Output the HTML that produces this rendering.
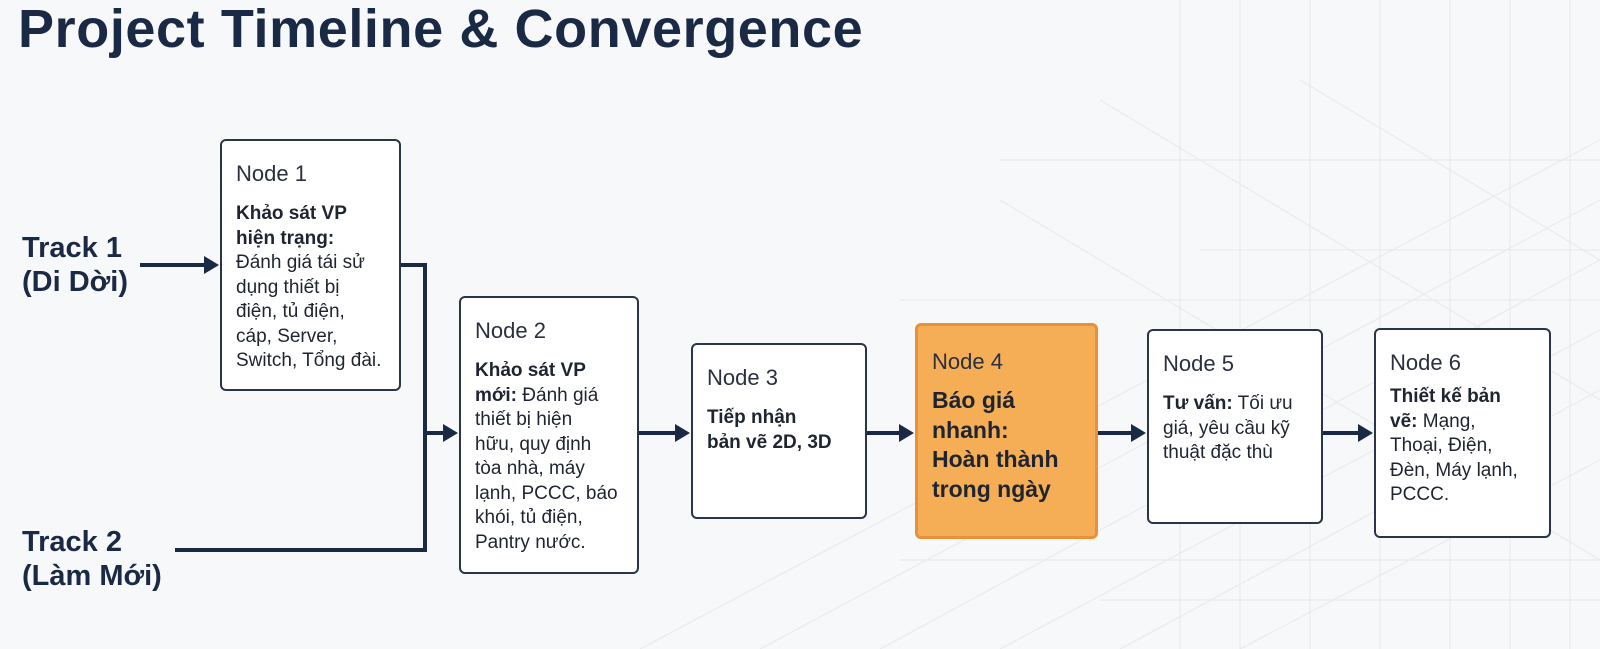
<!DOCTYPE html>
<html><head><meta charset="utf-8"><style>
body{margin:0;width:1600px;height:649px;background:#f7f8fa;position:relative;overflow:hidden;font-family:"Liberation Sans","DejaVu Sans",sans-serif;color:#1b2538}
.t{position:absolute;left:18px;top:-2px;font-size:54px;font-weight:bold;color:#1b2a44;letter-spacing:0.6px;white-space:nowrap}
.n{position:absolute;background:#fff;border:2px solid #2a3548;border-radius:6px;box-sizing:border-box;padding:20px 0 0 14px;font-size:19px;line-height:24.5px;color:#1e2430;white-space:nowrap}
.n h{display:block;font-size:22px;line-height:25px;margin-bottom:16px;color:#2a3040}
.n b{font-weight:bold}
.o{background:#f5ae55;border:3px solid #e8913a}
.o b{font-size:23px;line-height:28px}
.tr{position:absolute;font-size:29px;font-weight:bold;line-height:34px;color:#1b2a44}
svg{position:absolute;left:0;top:0}
</style></head><body>
<svg width="1600" height="649">
<g stroke="#e8eaee" stroke-width="1.2" fill="none">
<path d="M760 649 L1600 200 M880 649 L1600 260 M1000 649 L1600 330 M640 649 L1600 140 M1120 649 L1600 390 M1240 649 L1600 460"/>
<path d="M1180 0 V649 M1240 0 V649 M1310 0 V649 M1380 0 V649 M1450 0 V649 M1510 0 V649 M1570 0 V649"/>
<path d="M900 300 H1600 M900 560 H1600 M1100 600 H1600 M1200 250 H1600 M1000 160 H1600"/>
<path d="M1100 100 L1600 400 M1300 80 L1600 260 M1000 200 L1600 560"/>
</g>
<g stroke="#1b2a44" stroke-width="4" fill="none">
<path d="M140 265 H206"/>
<path d="M400 265 H425 V550 H175"/>
<path d="M425 433 H446"/>
<path d="M638 433 H678"/>
<path d="M866 433 H902"/>
<path d="M1097 433 H1134"/>
<path d="M1322 433 H1360"/>
</g>
<g fill="#1b2a44">
<path d="M219 265 L204 256 L204 274Z"/>
<path d="M458 433 L443 424 L443 442Z"/>
<path d="M690 433 L675 424 L675 442Z"/>
<path d="M914 433 L899 424 L899 442Z"/>
<path d="M1146 433 L1131 424 L1131 442Z"/>
<path d="M1373 433 L1358 424 L1358 442Z"/>
</g>
</svg>
<div class="t">Project Timeline &amp; Convergence</div>
<div class="tr" style="left:22px;top:231px">Track 1<br>(Di Dời)</div>
<div class="tr" style="left:22px;top:525px">Track 2<br>(Làm Mới)</div>
<div class="n" style="left:220px;top:139px;width:181px;height:252px"><h>Node 1</h><b>Khảo sát VP<br>hiện trạng:</b><br>Đánh giá tái sử<br>dụng thiết bị<br>điện, tủ điện,<br>cáp, Server,<br>Switch, Tổng đài.</div>
<div class="n" style="left:459px;top:296px;width:180px;height:278px"><h>Node 2</h><b>Khảo sát VP<br>mới:</b> Đánh giá<br>thiết bị hiện<br>hữu, quy định<br>tòa nhà, máy<br>lạnh, PCCC, báo<br>khói, tủ điện,<br>Pantry nước.</div>
<div class="n" style="left:691px;top:343px;width:176px;height:176px"><h>Node 3</h><b>Tiếp nhận<br>bản vẽ 2D, 3D</b></div>
<div class="n o" style="left:915px;top:323px;width:183px;height:216px;padding-top:23px"><h style="margin-bottom:12px">Node 4</h><b>Báo giá<br>nhanh:<br>Hoàn thành<br>trong ngày</b></div>
<div class="n" style="left:1147px;top:329px;width:176px;height:195px"><h>Node 5</h><b>Tư vấn:</b> Tối ưu<br>giá, yêu cầu kỹ<br>thuật đặc thù</div>
<div class="n" style="left:1374px;top:328px;width:177px;height:210px"><h style="margin-bottom:10px">Node 6</h><b>Thiết kế bản<br>vẽ:</b> Mạng,<br>Thoại, Điện,<br>Đèn, Máy lạnh,<br>PCCC.</div>
</body></html>
